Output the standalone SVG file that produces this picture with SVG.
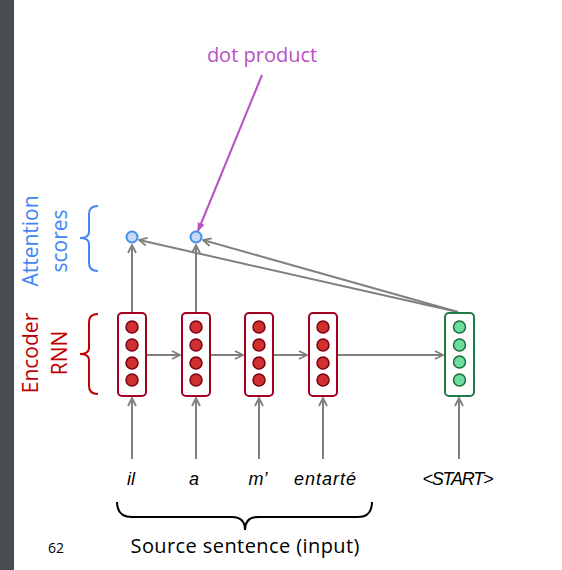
<svg xmlns="http://www.w3.org/2000/svg" width="562" height="570" viewBox="0 0 562 570">
<defs>
<marker id="ah" viewBox="0 0 10 10" refX="9" refY="5" markerWidth="10" markerHeight="10" markerUnits="userSpaceOnUse" orient="auto">
<path d="M1,1 L9,5 L1,9" fill="none" stroke="#808080" stroke-width="1.8"/>
</marker>
<marker id="mh" viewBox="0 0 10 10" refX="9" refY="5" markerWidth="9" markerHeight="9" markerUnits="userSpaceOnUse" orient="auto">
<path d="M0,1 L10,5 L0,9 Z" fill="#b84fc4"/>
</marker>
</defs>
<style>
.conn{stroke:#808080;stroke-width:2;fill:none;marker-end:url(#ah)}
.ebox{fill:#fff;stroke:#a50021;stroke-width:2}
.edot{fill:#d03030;stroke:#7a0010;stroke-width:1.5}
.dbox{fill:#fff;stroke:#1e7a46;stroke-width:2}
.ddot{fill:#6edc9a;stroke:#1b6a3b;stroke-width:1.5}
.att{fill:#c5d9f7;stroke:#3f8ef5;stroke-width:2}
.word{font-family:"Liberation Sans",Arial,sans-serif;font-style:italic;font-size:18px;fill:#000}
.lbl{font-family:"Open Sans","Liberation Sans",sans-serif;font-size:21px}
</style>
<rect x="0" y="0" width="14" height="570" fill="#4a4d50"/>
<g id="labels">
<text class="lbl" fill="#4285f4" transform="translate(38,241) rotate(-90)" text-anchor="middle">Attention</text>
<text class="lbl" fill="#4285f4" transform="translate(67,241) rotate(-90)" text-anchor="middle">scores</text>
<text class="lbl" fill="#c00000" transform="translate(38,353) rotate(-90)" text-anchor="middle">Encoder</text>
<text class="lbl" fill="#c00000" transform="translate(67,353) rotate(-90)" text-anchor="middle">RNN</text>
<path d="M98,206 Q89,206 89,214 L89,232 Q89,238 80,238 Q89,238 89,244 L89,263 Q89,271 98,271" fill="none" stroke="#4285f4" stroke-width="2"/>
<path d="M98,314 Q89,314 89,322 L89,348 Q89,354 80,354 Q89,354 89,360 L89,386 Q89,394 98,394" fill="none" stroke="#c00000" stroke-width="2"/>
<text fill="#b84fc4" x="262" y="62" text-anchor="middle" font-family="'Open Sans','Liberation Sans',sans-serif" font-size="20">dot product</text>
</g>
<g id="connectors">
<line class="conn" x1="132" y1="459" x2="132" y2="398"/>
<line class="conn" x1="196" y1="459" x2="196" y2="398"/>
<line class="conn" x1="259" y1="459" x2="259" y2="398"/>
<line class="conn" x1="323" y1="459" x2="323" y2="398"/>
<line class="conn" x1="459" y1="459" x2="459" y2="398"/>
<line class="conn" x1="147" y1="355" x2="180" y2="355"/>
<line class="conn" x1="211" y1="355" x2="243" y2="355"/>
<line class="conn" x1="273" y1="355" x2="307" y2="355"/>
<line class="conn" x1="337" y1="355" x2="443" y2="355"/>
<line class="conn" x1="132" y1="312" x2="132" y2="245"/>
<line class="conn" x1="196" y1="312" x2="196" y2="245"/>
<line class="conn" x1="458" y1="312" x2="139" y2="240"/>
<line class="conn" x1="458" y1="312" x2="203" y2="240"/>
<line x1="262" y1="75" x2="198" y2="231" stroke="#b84fc4" stroke-width="2" marker-end="url(#mh)"/>
</g>
<g id="att1"><circle class="att" cx="132" cy="237" r="5.5"/></g>
<g id="att2"><circle class="att" cx="196" cy="237" r="5.5"/></g>
<g id="enc1">
<rect class="ebox" x="118" y="313" width="28" height="83" rx="4"/>
<circle class="edot" cx="132" cy="327" r="6"/><circle class="edot" cx="132" cy="345" r="6"/><circle class="edot" cx="132" cy="363" r="6"/><circle class="edot" cx="132" cy="380" r="6"/>
</g>
<g id="enc2">
<rect class="ebox" x="182" y="313" width="28" height="83" rx="4"/>
<circle class="edot" cx="196" cy="327" r="6"/><circle class="edot" cx="196" cy="345" r="6"/><circle class="edot" cx="196" cy="363" r="6"/><circle class="edot" cx="196" cy="380" r="6"/>
</g>
<g id="enc3">
<rect class="ebox" x="245" y="313" width="28" height="83" rx="4"/>
<circle class="edot" cx="259" cy="327" r="6"/><circle class="edot" cx="259" cy="345" r="6"/><circle class="edot" cx="259" cy="363" r="6"/><circle class="edot" cx="259" cy="380" r="6"/>
</g>
<g id="enc4">
<rect class="ebox" x="309" y="313" width="28" height="83" rx="4"/>
<circle class="edot" cx="323" cy="327" r="6"/><circle class="edot" cx="323" cy="345" r="6"/><circle class="edot" cx="323" cy="363" r="6"/><circle class="edot" cx="323" cy="380" r="6"/>
</g>
<g id="dec1">
<rect class="dbox" x="445" y="313" width="29" height="83" rx="4"/>
<circle class="ddot" cx="459.5" cy="327" r="6"/><circle class="ddot" cx="459.5" cy="345" r="6"/><circle class="ddot" cx="459.5" cy="362" r="6"/><circle class="ddot" cx="459.5" cy="380" r="6"/>
</g>
<g id="words">
<text class="word" x="131" y="485" text-anchor="middle">il</text>
<text class="word" x="194" y="485" text-anchor="middle">a</text>
<text class="word" x="258" y="485" text-anchor="middle">m’</text>
<text class="word" x="325" y="485" text-anchor="middle" textLength="62">entarté</text>
<text class="word" x="458" y="485" text-anchor="middle" textLength="71">&lt;START&gt;</text>
</g>
<g id="source">
<path d="M117,502 Q117,517 132,517 L232,517 Q245,517 245,530 Q245,517 258,517 L358,517 Q372,517 372,502" fill="none" stroke="#000" stroke-width="2"/>
<text x="245" y="553" text-anchor="middle" font-family="'Open Sans','Liberation Sans',sans-serif" font-size="20" textLength="229" fill="#000">Source sentence (input)</text>
<text x="56" y="553" text-anchor="middle" font-family="'Open Sans','Liberation Sans',sans-serif" font-size="14" fill="#000">62</text>
</g>
</svg>
